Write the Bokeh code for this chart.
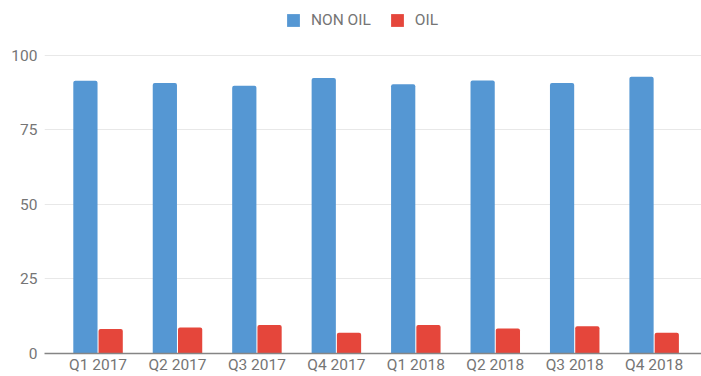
from bokeh.plotting import figure
from bokeh.models import ColumnDataSource, FixedTicker, Legend, LegendItem, Range1d
from bokeh.transform import dodge
from bokeh.embed import file_html
from bokeh.resources import INLINE

# Quarterly share of GDP (%), non-oil vs oil sector
quarters = ["Q1 2017", "Q2 2017", "Q3 2017", "Q4 2017",
            "Q1 2018", "Q2 2018", "Q3 2018", "Q4 2018"]
non_oil = [91.5, 90.7, 89.8, 92.4, 90.3, 91.6, 90.7, 92.8]
oil = [8.2, 8.7, 9.6, 7.0, 9.6, 8.4, 9.1, 7.0]
y_ticks = [0, 25, 50, 75, 100]

BLUE = "#5597d3"
RED = "#e5463b"
GREY_TEXT = "#757575"
FONT = "Roboto"
FONT_SIZE = "15.5px"

src = ColumnDataSource(dict(x=list(range(len(quarters))), non_oil=non_oil, oil=oil))

# frame spans the full height; headroom above 100 holds the legend
p = figure(width=701, height=376, output_backend="svg", toolbar_location=None,
           x_range=Range1d(-0.674, len(quarters) - 1 + 0.596),
           y_range=Range1d(0, 100 * 354 / 299),
           min_border_left=44, min_border_right=0, min_border_top=0,
           min_border_bottom=22)
p.outline_line_color = None
p.background_fill_color = "white"
p.border_fill_color = "white"

bar_w = 0.305
r_non = p.vbar(x=dodge("x", -0.159), top="non_oil", width=bar_w, source=src,
               fill_color=BLUE, line_color=None, border_radius=(2, 2, 0, 0))
r_oil = p.vbar(x=dodge("x", 0.159), top="oil", width=bar_w, source=src,
               fill_color=RED, line_color=None, border_radius=(2, 2, 0, 0))

# x axis: quarter labels under each group, dark baseline
p.xaxis.ticker = FixedTicker(ticks=list(range(len(quarters))))
p.xaxis.major_label_overrides = {i: q for i, q in enumerate(quarters)}
p.xaxis.major_tick_line_color = None
p.xaxis.major_tick_out = 0
p.xaxis.major_tick_in = 0
p.xaxis.minor_tick_line_color = None
p.xaxis.axis_line_color = "#858585"
p.xaxis.axis_line_width = 1.5
p.xaxis.major_label_text_font = FONT
p.xaxis.major_label_text_font_size = FONT_SIZE
p.xaxis.major_label_text_color = GREY_TEXT
p.xaxis.major_label_standoff = 2
p.xgrid.grid_line_color = None

# y axis: labels only, light horizontal gridlines
p.yaxis.ticker = FixedTicker(ticks=y_ticks)
p.yaxis.axis_line_color = None
p.yaxis.major_tick_line_color = None
p.yaxis.major_tick_out = 0
p.yaxis.major_tick_in = 0
p.yaxis.minor_tick_line_color = None
p.yaxis.major_label_text_font = FONT
p.yaxis.major_label_text_font_size = FONT_SIZE
p.yaxis.major_label_text_color = GREY_TEXT
p.yaxis.major_label_standoff = 7
p.ygrid.grid_line_color = "#e8e8e8"
p.ygrid.grid_line_width = 1

# horizontal legend above the 100 gridline
legend = Legend(items=[LegendItem(label="NON OIL", renderers=[r_non]),
                       LegendItem(label="OIL", renderers=[r_oil])],
                orientation="horizontal", location=(241, 324),
                glyph_width=16, glyph_height=16, label_standoff=10, spacing=18,
                padding=0, margin=0, border_line_color=None,
                background_fill_alpha=0,
                label_text_font=FONT, label_text_font_size=FONT_SIZE,
                label_text_color=GREY_TEXT)
p.add_layout(legend, "center")

open("out.html", "w").write(file_html(p, INLINE))
